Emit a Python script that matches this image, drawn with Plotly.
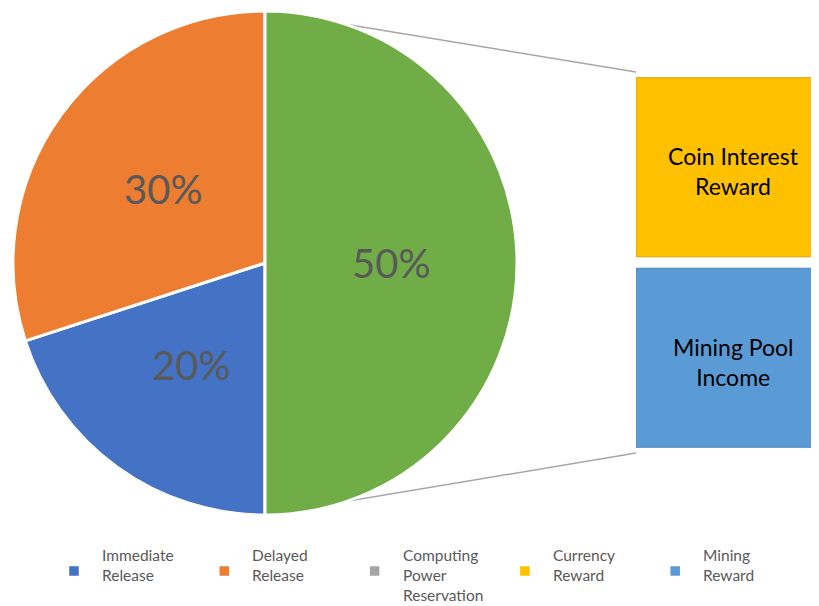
import math
import plotly.graph_objects as go

# ---------------- data ----------------
categories = ["Immediate Release", "Delayed Release", "Computing Power Reservation",
              "Currency Reward", "Mining Reward"]
legend_labels = ["Immediate<br>Release", "Delayed<br>Release",
                 "Computing<br>Power<br>Reservation", "Currency<br>Reward", "Mining<br>Reward"]
values = [20, 30, 0, 25, 25]
colors = ["#4472C4", "#ED7D31", "#A5A5A5", "#FFC000", "#5B9BD5"]

pie_count = 2                       # points kept in the main pie
other_color = "#70AD47"             # aggregated "other" slice
bar_labels = ["Mining Pool<br>Income", "Coin Interest<br>Reward"]   # bottom -> top
bar_values = [values[4], values[3]]
bar_colors = [colors[4], colors[3]]
bar_borders = ["#4E86BE", "#D9A400"]

# ---------------- layout helpers ----------------
W, H = 819, 606
OFF = 8                              # page body margin offset of the rendered div


def px(xs):                          # screen pixel -> paper x
    return (xs - OFF) / W


def py(ys):                          # screen pixel -> paper y
    return 1 - (ys - OFF) / H


cx, cy, r = 265, 263, 252            # pie centre / radius (screen px)

pie_vals = values[:pie_count] + [sum(values[pie_count:])]
pie_labels = categories[:pie_count] + ["Other"]
pie_colors = colors[:pie_count] + [other_color]
total = sum(pie_vals)

fig = go.Figure()
fig.add_trace(go.Pie(
    values=pie_vals, labels=pie_labels, sort=False, direction="clockwise", rotation=180,
    marker=dict(colors=pie_colors, line=dict(color="white", width=3)),
    textinfo="none", hoverinfo="label+percent", showlegend=False,
    domain=dict(x=[px(cx - r), px(cx + r)], y=[py(cy + r), py(cy - r)]),
))

annotations = []
# percentage labels at half radius along slice bisectors
cum = 0
for v in pie_vals:
    th = math.radians(180 + (cum + v / 2) / total * 360)
    lx = cx + 0.5 * r * math.sin(th)
    ly = cy - 0.5 * r * math.cos(th)
    annotations.append(dict(x=px(lx), y=py(ly), xref="paper", yref="paper",
                            xanchor="center", yanchor="middle",
                            text=f"{round(v / total * 100)}%", showarrow=False,
                            font=dict(family="Lato", size=40, color="#595959")))
    cum += v

# ---------------- bar of pie ----------------
bar_total = sum(bar_values)
bar_left, bar_center = 636, 733
bar_top, bar_bottom = 72, 453
pad = 0.75
x_dom = [px(bar_left), 1.0]
y_dom = [py(bar_bottom), py(bar_top)]
unit_px = 2 * (bar_center - bar_left)
x_range = [-0.5, -0.5 + (x_dom[1] - x_dom[0]) * W / unit_px]

cum = 0
for lab, v, c, bc in zip(bar_labels, bar_values, bar_colors, bar_borders):
    fig.add_trace(go.Bar(x=[0], y=[v - 2 * pad], base=[cum + pad], width=1,
                         marker=dict(color=c, line=dict(color=bc, width=1)),
                         showlegend=False, hoverinfo="skip"))
    annotations.append(dict(x=0, y=cum + v / 2, xref="x", yref="y", text=lab,
                            showarrow=False, yshift=-4, xanchor="center", yanchor="middle",
                            font=dict(family="Lato", size=23, color="#000000")))
    cum += v

# connector lines from the split points of the pie to the stacked bar
shapes = [
    dict(type="line", xref="paper", yref="paper", x0=px(cx), y0=py(cy - r),
         x1=x_dom[0], y1=y_dom[1], line=dict(color="#A6A6A6", width=1.5), layer="below"),
    dict(type="line", xref="paper", yref="paper", x0=px(cx), y0=py(cy + r),
         x1=x_dom[0], y1=y_dom[0], line=dict(color="#A6A6A6", width=1.5), layer="below"),
]

# ---------------- legend (drawn in the Excel style) ----------------
leg_x0, leg_dx, leg_my, leg_ty, msz, tgap = 74, 150.3, 571, 544, 9.5, 26
for i, (lab, c) in enumerate(zip(legend_labels, colors)):
    mx = leg_x0 + i * leg_dx
    shapes.append(dict(type="rect", xref="paper", yref="paper",
                       x0=px(mx - msz / 2), x1=px(mx + msz / 2),
                       y0=py(leg_my + msz / 2), y1=py(leg_my - msz / 2),
                       fillcolor=c, line=dict(width=0)))
    annotations.append(dict(x=px(mx + tgap), y=py(leg_ty), xref="paper", yref="paper",
                            text=lab, showarrow=False, xanchor="left", yanchor="top",
                            align="left", font=dict(family="Lato", size=15.5, color="#595959")))

fig.update_layout(
    width=W, height=H, margin=dict(l=0, r=0, t=0, b=0),
    paper_bgcolor="white", plot_bgcolor="rgba(0,0,0,0)",
    xaxis=dict(domain=x_dom, range=x_range, visible=False, fixedrange=True),
    yaxis=dict(domain=y_dom, range=[0, bar_total], visible=False, fixedrange=True),
    barmode="overlay", showlegend=False,
    annotations=annotations, shapes=shapes,
    font=dict(family="Lato"),
)

fig.write_html("out.html")
